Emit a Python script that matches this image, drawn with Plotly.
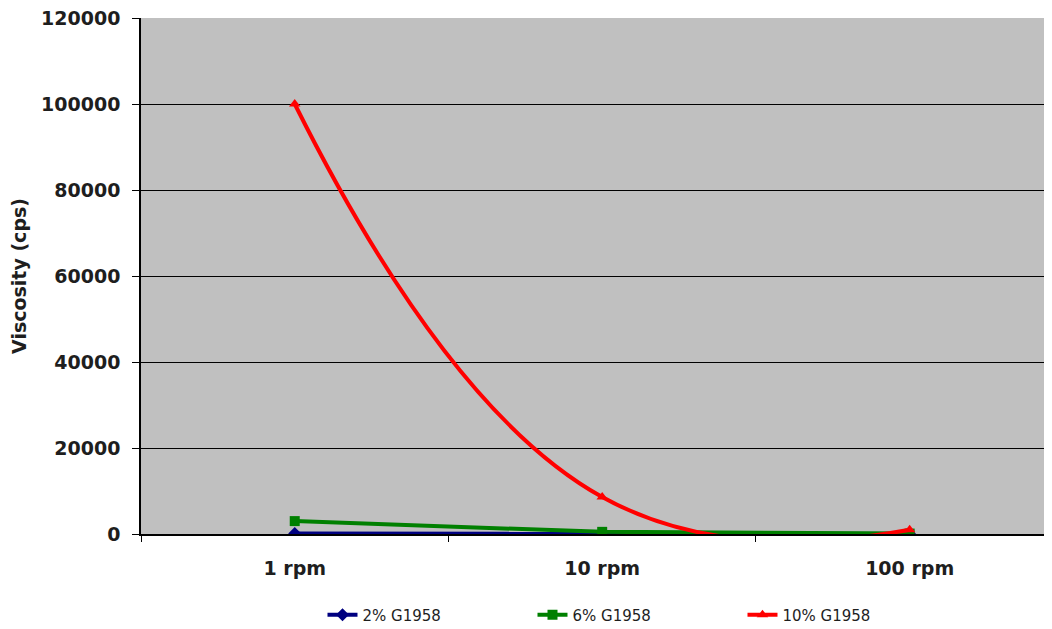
import plotly.graph_objects as go

categories = ["1 rpm", "10 rpm", "100 rpm"]
s2 = [100, 60, 20]
s6 = [3000, 500, 100]
s10 = [100000, 8600, 1000]
names = ["2% G1958", "6% G1958", "10% G1958"]
colors = ["#000080", "#008000", "#FF0000"]
symbols = ["diamond", "square", "triangle-up"]

FONT = "DejaVu Sans, Liberation Sans, Arial"

fig = go.Figure()
for vals, name, col, sym, shape in zip([s2, s6, s10], names, colors, symbols,
                                       ["linear", "linear", "spline"]):
    fig.add_trace(go.Scatter(
        x=categories, y=vals, name=name, mode="lines+markers",
        line=dict(color=col, width=4, shape=shape, smoothing=1.3),
        marker=dict(color=col, symbol=sym, size=10),
    ))

fig.update_layout(
    width=1052, height=629,
    margin=dict(l=133, r=8, t=10, b=103, autoexpand=False),
    paper_bgcolor="white", plot_bgcolor="#C0C0C0",
    font=dict(family=FONT, color="#1e1e1e"),
    showlegend=True,
    legend=dict(orientation="h", x=0.545, xanchor="center", y=-0.157, yanchor="middle",
                font=dict(size=15, color="#1e1e1e", family=FONT), entrywidth=165,
                bgcolor="rgba(0,0,0,0)"),
    xaxis=dict(type="category", range=[-0.5, 2.463], showgrid=False, automargin=False,
               showline=True, linecolor="black", linewidth=1.5,
               ticks="outside", tickson="boundaries", ticklen=6, tickcolor="black",
               ticklabelstandoff=16,
               tickfont=dict(size=19, family=FONT, color="#1e1e1e"),
               zeroline=False),
    yaxis=dict(range=[0, 120000], dtick=20000, showgrid=True, gridcolor="black",
               gridwidth=1.3, showline=True, linecolor="black", linewidth=1.5,
               automargin=False, ticklabelstandoff=8, ticklabeloverflow="allow",
               ticks="outside", ticklen=7, tickcolor="black", zeroline=False,
               tickformat="d",
               tickfont=dict(size=19, family=FONT, color="#1e1e1e"),
               title=dict(text="<b>Viscosity (cps)</b>", standoff=10,
                          font=dict(size=19, family=FONT, color="#1e1e1e"))),
)
fig.update_xaxes(tickprefix="<b>", ticksuffix="</b>")
fig.update_yaxes(tickprefix="<b>", ticksuffix="</b>")
fig.write_html("out.html")
